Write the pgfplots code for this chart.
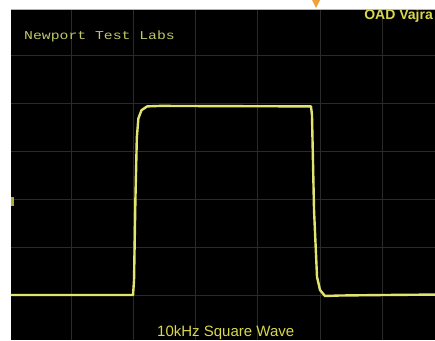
\documentclass[border=0pt]{standalone}
\usepackage{fontspec}
\setmainfont{Liberation Sans}
\newfontfamily\monof{Liberation Mono}
\usepackage{pgfplots}
\pgfplotsset{compat=1.18}
\definecolor{trace}{RGB}{226,228,112}
\definecolor{gridc}{RGB}{42,42,42}
\definecolor{labc}{RGB}{192,200,104}
\definecolor{ylab}{RGB}{216,216,76}
\definecolor{trig}{RGB}{240,160,60}
\begin{document}
\begin{tikzpicture}[x=1bp,y=1bp]
\fill[white] (0,0) rectangle (435,340);
\begin{axis}[
  at={(11bp,0bp)}, anchor=south west,
  scale only axis, width=424bp, height=331bp,
  xmin=-4.968, xmax=1.849, ymin=-2.917, ymax=3.979,
  axis background/.style={fill=black},
  axis line style={draw=none},
  xtick={-4,-3,-2,-1,0,1}, ytick={-2,-1,0,1,2,3},
  xticklabels={}, yticklabels={},
  major tick length=0pt,
  grid=major,
  major grid style={draw=gridc, line width=1bp},
  clip=true,
]
\addplot[trace, line width=2.4bp, line join=round] coordinates {
(-4.97,-1.98) (-3.006,-1.98) (-2.99,-1.67) (-2.968,0) (-2.945,1.3)
(-2.92,1.7) (-2.87,1.87) (-2.78,1.95) (-2.57,1.96) (-1.5,1.955)
(-0.145,1.95) (-0.129,1.77) (-0.096,-0.21) (-0.048,-1.60) (0,-1.875)
(0.08,-2.0) (0.32,-1.99) (1.0,-1.98) (1.85,-1.97)
};
\end{axis}
\draw[gray!60, line width=0.6bp] (11,331) -- (435,331);
\node[anchor=west, text=labc, font=\monof\fontsize{12bp}{14bp}\selectfont, xscale=1.23, inner sep=0pt] at (24,304) {Newport Test Labs};
\node[anchor=east, text=ylab, font=\bfseries\fontsize{14bp}{16bp}\selectfont, inner sep=0pt] at (433,324) {OAD Vajra};
\node[anchor=base west, text=ylab, font=\fontsize{15bp}{17bp}\selectfont, inner sep=0pt] at (157,3.5) {10kHz Square Wave};
\fill[trig] (312,340) -- (320,340) -- (316,332) -- cycle;
\fill[ylab!80!black] (11,134) rectangle (14,143);
\pgfresetboundingbox
\useasboundingbox (0,0) rectangle (435,340);
\end{tikzpicture}
\end{document}
